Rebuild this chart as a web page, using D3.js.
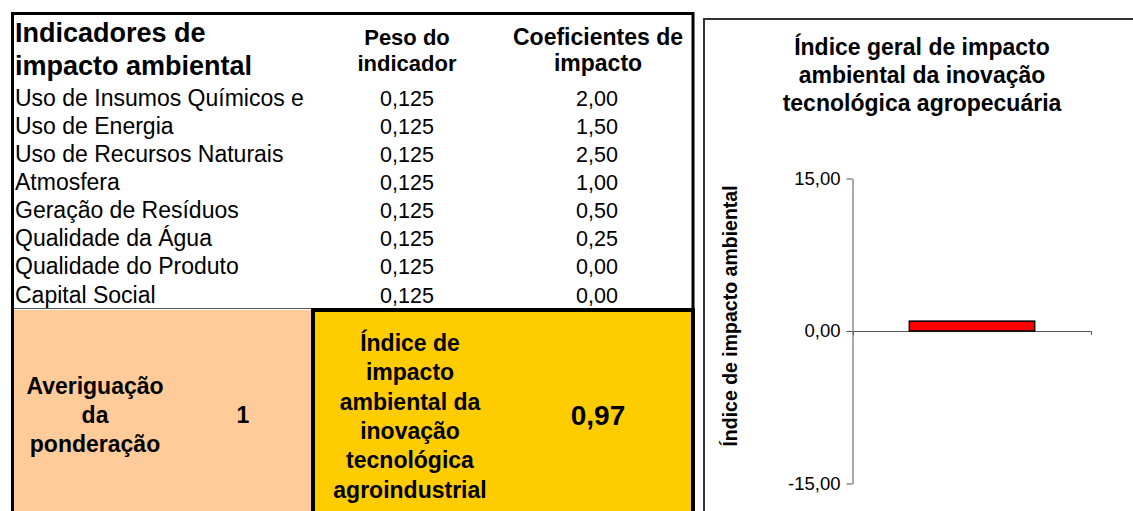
<!DOCTYPE html>
<html><head><meta charset="utf-8">
<script src="https://cdn.jsdelivr.net/npm/d3@7"></script>
<style>
body{margin:0;background:#fff;}
svg text{font-family:"Liberation Sans",Arial,sans-serif;fill:#000;}
</style></head><body>
<svg id="c" width="1133" height="511"></svg>
<script>
// ---- data ----
const indicators = ["Uso de Insumos Químicos e","Uso de Energia","Uso de Recursos Naturais","Atmosfera","Geração de Resíduos","Qualidade da Água","Qualidade do Produto","Capital Social"];
const weights = [0.125,0.125,0.125,0.125,0.125,0.125,0.125,0.125];
const coefficients = [2.00,1.50,2.50,1.00,0.50,0.25,0.00,0.00];
const weightCheck = 1;
const indexValue = 0.97;
const chartCategories = ["Índice"];
const chartValues = [0.97];
const yTicks = [-15, 0, 15];

const loc = d3.formatLocale({decimal:",",thousands:".",grouping:[3],currency:["R$",""],minus:"-"});
const f2 = loc.format(".2f"), f3 = loc.format(".3f");

const svg = d3.select("#c");

// ---- table ----
const g = svg.append("g");
g.append("rect").attr("x",14).attr("y",310).attr("width",297).attr("height",201).attr("fill","#FFCC99");
g.append("rect").attr("x",313).attr("y",310).attr("width",380).attr("height",210).attr("fill","#FFCC00")
 .attr("stroke","#000").attr("stroke-width",4);
g.append("line").attr("x1",14).attr("x2",311).attr("y1",308.5).attr("y2",308.5).attr("stroke","#555").attr("stroke-width",1);
g.append("path").attr("d","M12.5,520 V13.5 H693 V310").attr("fill","none").attr("stroke","#000").attr("stroke-width",3);

// headers
g.append("text").attr("x",15).attr("y",42).attr("font-size",27).attr("font-weight","bold").text("Indicadores de");
g.append("text").attr("x",15).attr("y",75).attr("font-size",27).attr("font-weight","bold").text("impacto ambiental");
[["Peso do","indicador",407,22],["Coeficientes de","impacto",598,23]].forEach(([a,b,x,fs])=>{
  g.append("text").attr("x",x).attr("y",45).attr("text-anchor","middle").attr("font-size",fs).attr("font-weight","bold").text(a);
  g.append("text").attr("x",x).attr("y",71).attr("text-anchor","middle").attr("font-size",fs).attr("font-weight","bold").text(b);
});

const rowY = d3.scaleLinear().domain([0,7]).range([106,302.5]);
indicators.forEach((name,i)=>{
  g.append("text").attr("x",15).attr("y",rowY(i)).attr("font-size",23).text(name);
  g.append("text").attr("x",407).attr("y",rowY(i)).attr("text-anchor","middle").attr("font-size",21.5).text(f3(weights[i]));
  g.append("text").attr("x",597).attr("y",rowY(i)).attr("text-anchor","middle").attr("font-size",21.5).text(f2(coefficients[i]));
});

// bottom texts
["Averiguação","da","ponderação"].forEach((t,i)=>{
  g.append("text").attr("x",95).attr("y",394+i*29).attr("text-anchor","middle").attr("font-size",23).attr("font-weight","bold").text(t);
});
g.append("text").attr("x",243).attr("y",423).attr("text-anchor","middle").attr("font-size",23).attr("font-weight","bold").text(String(weightCheck));
["Índice de","impacto","ambiental da","inovação","tecnológica","agroindustrial"].forEach((t,i)=>{
  g.append("text").attr("x",410).attr("y",351+i*29.3).attr("text-anchor","middle").attr("font-size",23).attr("font-weight","bold").text(t);
});
g.append("text").attr("x",598).attr("y",425).attr("text-anchor","middle").attr("font-size",28).attr("font-weight","bold").text(f2(indexValue));

// ---- chart ----
const cg = svg.append("g");
cg.append("path").attr("d","M704,520 V19 H1140").attr("fill","none").attr("stroke","#333").attr("stroke-width",2);
["Índice geral de impacto","ambiental da inovação","tecnológica agropecuária"].forEach((t,i)=>{
  cg.append("text").attr("x",922).attr("y",55+i*28).attr("text-anchor","middle").attr("font-size",23).attr("font-weight","bold").text(t);
});

const y = d3.scaleLinear().domain([-15,15]).range([483.5,178.5]);
const x = d3.scaleBand().domain(chartCategories).range([853,1091]).paddingInner(0.31).paddingOuter(0.31);

const yAxis = cg.append("g").attr("transform","translate(852.5,0)")
  .call(d3.axisLeft(y).tickValues(yTicks).tickFormat(f2).tickSize(6).tickSizeOuter(0).tickPadding(6));
yAxis.select(".domain").attr("stroke","#555");
yAxis.selectAll(".tick line").attr("stroke","#555");
yAxis.selectAll(".tick text").attr("font-size",18.5).attr("font-family","Liberation Sans, Arial, sans-serif").attr("fill","#000");

const xAxis = cg.append("g").attr("transform",`translate(0,${y(0)})`)
  .call(d3.axisBottom(x).tickValues([]).tickSizeOuter(4));
xAxis.select(".domain").attr("stroke","#555");

cg.selectAll("rect.bar").data(chartValues).enter().append("rect").attr("class","bar")
  .attr("x",(d,i)=>x(chartCategories[i])).attr("width",x.bandwidth())
  .attr("y",d=>y(Math.max(0,d))).attr("height",d=>Math.abs(y(d)-y(0)))
  .attr("fill","#FF0000").attr("stroke","#000").attr("stroke-width",1.5);

cg.append("text").attr("transform","translate(737,316) rotate(-90)").attr("text-anchor","middle")
  .attr("font-size",19.5).attr("font-weight","bold").text("Índice de impacto ambiental");
</script>
</body></html>
